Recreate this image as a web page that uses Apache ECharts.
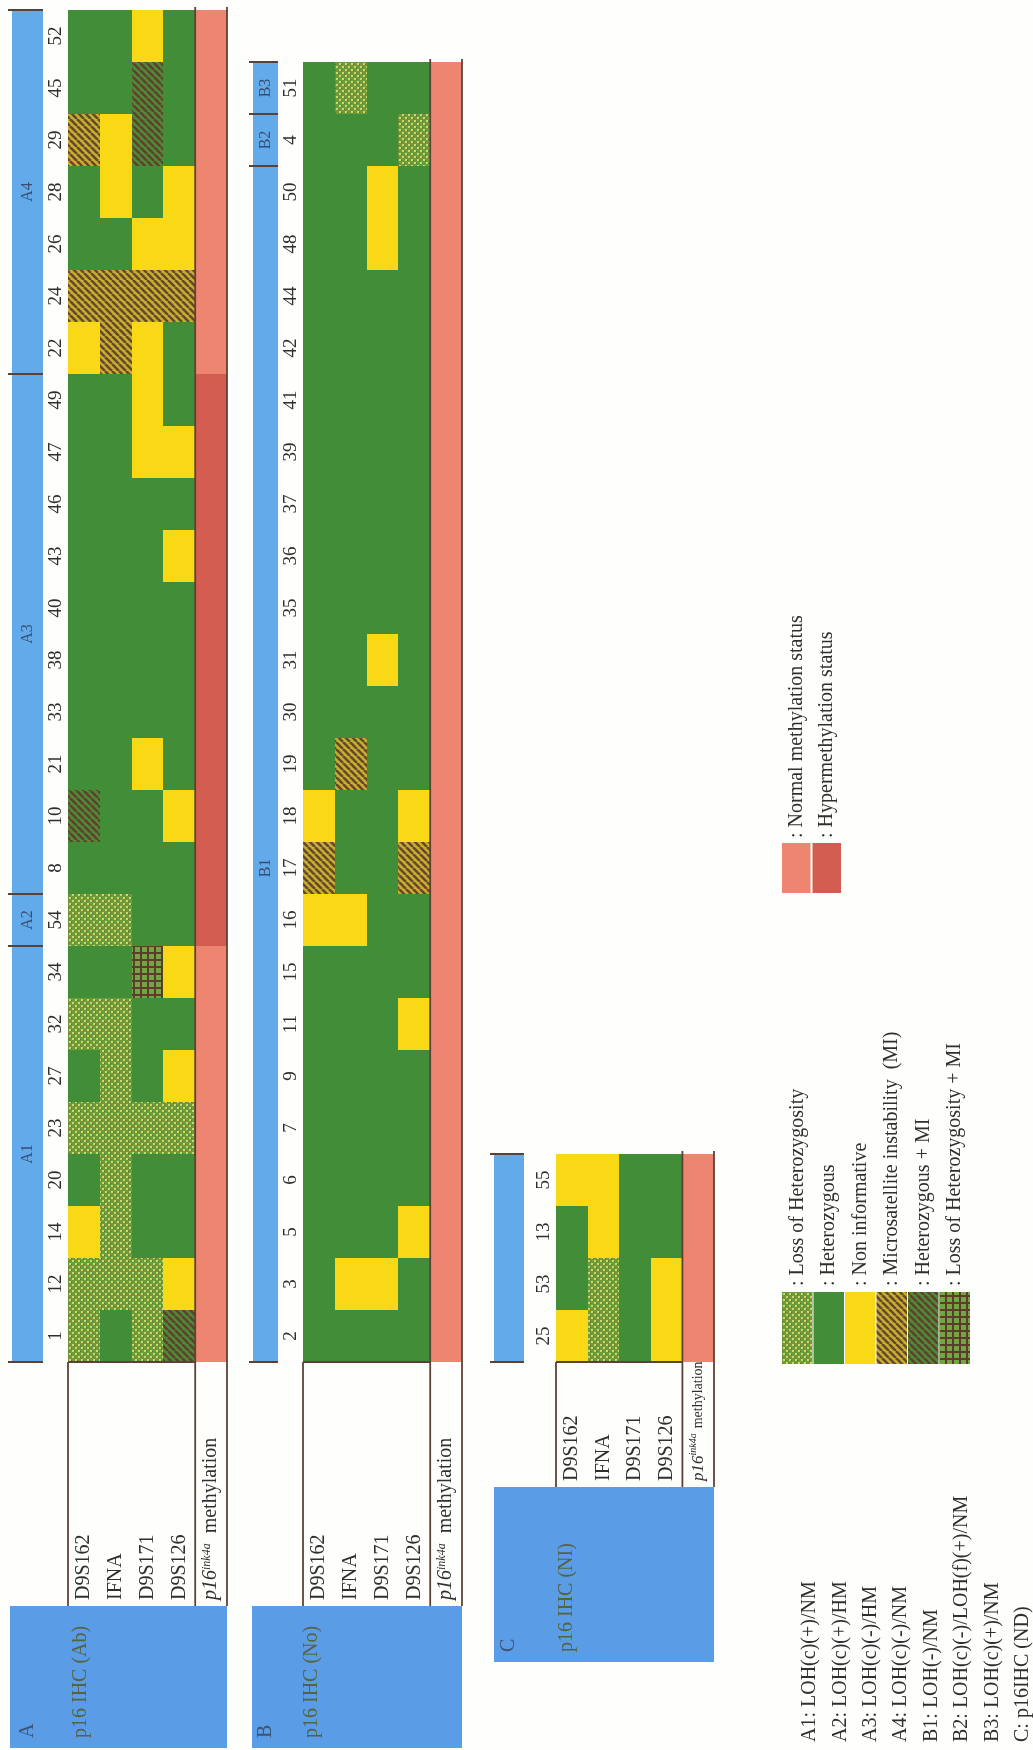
<!DOCTYPE html>
<html>
<head>
<meta charset="utf-8">
<script src="https://cdn.jsdelivr.net/npm/echarts@6/dist/echarts.min.js"></script>
<style>
  html, body { margin: 0; padding: 0; background: #fefefd; }
  #chart { width: 1033px; height: 1750px; }
</style>
</head>
<body>
<div id="chart"></div>
<script>
// ---- data -------------------------------------------------------------
// Microsatellite markers (columns) plus the methylation column.
const markers = ['D9S162', 'IFNA', 'D9S171', 'D9S126'];
const columns = markers.concat(['methylation']);

// Loci codes, one letter per marker:
// G heterozygous, L loss of heterozygosity, Y non informative,
// M microsatellite instability, H heterozygous + MI, X LOH + MI
// Methylation codes: N normal, H hypermethylated.
// Cases are listed from the first drawn (bottom) to the last (top).

// Group A: p16 IHC (Ab)
const casesA = ['1', '12', '14', '20', '23', '27', '32', '34', '54', '8', '10', '21', '33',
                '38', '40', '43', '46', '47', '49', '22', '24', '26', '28', '29', '45', '52'];
const lociA = ['LGLH', 'LLLY', 'YLGG', 'GLGG', 'LLLL', 'GLGY', 'LLGG', 'GGXY', 'LLGG', 'GGGG',
               'HGGY', 'GGYG', 'GGGG', 'GGGG', 'GGGG', 'GGGY', 'GGGG', 'GGYY', 'GGYG', 'YMYG',
               'MMMM', 'GGYY', 'GYGY', 'MYHG', 'GGHG', 'GGYG'];
const methylA = ['N', 'N', 'N', 'N', 'N', 'N', 'N', 'N', 'H', 'H', 'H', 'H', 'H',
                 'H', 'H', 'H', 'H', 'H', 'H', 'N', 'N', 'N', 'N', 'N', 'N', 'N'];
const groupsA = [
  { name: 'A1', first: '1', last: '34' },
  { name: 'A2', first: '54', last: '54' },
  { name: 'A3', first: '8', last: '49' },
  { name: 'A4', first: '22', last: '52' }
];

// Group B: p16 IHC (No)
const casesB = ['2', '3', '5', '6', '7', '9', '11', '15', '16', '17', '18', '19', '30',
                '31', '35', '36', '37', '39', '41', '42', '44', '48', '50', '4', '51'];
const lociB = ['GGGG', 'GYYG', 'GGGY', 'GGGG', 'GGGG', 'GGGG', 'GGGY', 'GGGG', 'YYGG', 'MGGM',
               'YGGY', 'GMGG', 'GGGG', 'GGYG', 'GGGG', 'GGGG', 'GGGG', 'GGGG', 'GGGG', 'GGGG',
               'GGGG', 'GGYG', 'GGYG', 'GGGL', 'GLGG'];
const methylB = ['N', 'N', 'N', 'N', 'N', 'N', 'N', 'N', 'N', 'N', 'N', 'N', 'N',
                 'N', 'N', 'N', 'N', 'N', 'N', 'N', 'N', 'N', 'N', 'N', 'N'];
const groupsB = [
  { name: 'B1', first: '2', last: '50', labelAt: '17' },
  { name: 'B2', first: '4', last: '4' },
  { name: 'B3', first: '51', last: '51' }
];

// Group C: p16 IHC (NI)
const casesC = ['25', '53', '13', '55'];
const lociC = ['YLGY', 'GLGY', 'GYGG', 'YYGG'];
const methylC = ['N', 'N', 'N', 'N'];
const groupsC = [{ name: '', first: '25', last: '55' }];

// Legend entries
const lociLegend = [
  ['L', ': Loss of Heterozygosity'],
  ['G', ': Heterozygous'],
  ['Y', ': Non informative'],
  ['M', ': Microsatellite instability  (MI)'],
  ['H', ': Heterozygous + MI'],
  ['X', ': Loss of Heterozygosity + MI']
];
const methylLegend = [
  ['N', ': Normal methylation status'],
  ['H', ': Hypermethylation status']
];
const groupNotes = [
  'A1: LOH(c)(+)/NM', 'A2: LOH(c)(+)/HM', 'A3: LOH(c)(-)/HM', 'A4: LOH(c)(-)/NM',
  'B1: LOH(-)/NM', 'B2: LOH(c)(-)/LOH(f)(+)/NM', 'B3: LOH(c)(+)/NM', 'C: p16IHC (ND)'
];

// ---- styles -----------------------------------------------------------
const FONT = "'Liberation Serif', 'DejaVu Serif', 'Times New Roman', serif";
const TEXT = '#2f2f2f';
const LINE = '#5e4136';
const BAND_BLUE = '#63aaea';
const BLOCK_BLUE = '#5a9de6';

function tile(w, h, draw) {
  const c = document.createElement('canvas');
  c.width = w; c.height = h;
  draw(c.getContext('2d'), w, h);
  return { image: c, repeat: 'repeat' };
}
function stripes(base, ink) {
  return tile(7, 7, (g, w, h) => {
    g.fillStyle = base; g.fillRect(0, 0, w, h);
    g.strokeStyle = ink; g.lineWidth = 2.6; g.beginPath();
    for (let k = -1; k <= 1; k++) { g.moveTo(k * w, 0); g.lineTo(k * w + w, h); }
    g.stroke();
  });
}
const lociFill = {
  G: '#428d38',
  Y: '#f9d816',
  L: tile(6, 6, (g) => {
    g.fillStyle = '#6c9c3b'; g.fillRect(0, 0, 6, 6);
    g.fillStyle = '#cddb66'; g.fillRect(0, 0, 2, 2); g.fillRect(3, 3, 2, 2);
    g.fillStyle = '#7d5a3a'; g.fillRect(2, 1, 1, 1); g.fillRect(5, 4, 1, 1);
  }),
  M: stripes('#c4b02e', '#6a472c'),
  H: stripes('#4f8b36', '#5f422e'),
  X: tile(7, 7, (g) => {
    g.fillStyle = '#73a545'; g.fillRect(0, 0, 7, 7);
    g.fillStyle = '#5c3c2a'; g.fillRect(0, 0, 7, 2); g.fillRect(0, 0, 2, 7);
  })
};
const methylFill = { N: '#ee8571', H: '#d35d50' };

// ---- panel layout -----------------------------------------------------
// mLabel: font sizes of "p16", "ink4a" and "methylation" in the label box
const panels = [
  { id: 'A', title: 'p16 IHC (Ab)', cases: casesA, loci: lociA, methyl: methylA, groups: groupsA,
    layout: { left: 68, top: 10, right: 227, bottom: 1362, bandL: 12, bandR: 43, mLabel: [20, 12, 20],
              boxBottom: 1606, blockL: 10, blockR: 227, blockB: 1748, letterX: 28, titleX: 81 } },
  { id: 'B', title: 'p16 IHC (No)', cases: casesB, loci: lociB, methyl: methylB, groups: groupsB,
    layout: { left: 303, top: 62, right: 462, bottom: 1362, bandL: 253, bandR: 278, mLabel: [20, 12, 20],
              boxBottom: 1606, blockL: 252, blockR: 462, blockB: 1748, letterX: 266, titleX: 312 } },
  { id: 'C', title: 'p16 IHC (NI)', cases: casesC, loci: lociC, methyl: methylC, groups: groupsC,
    layout: { left: 556, top: 1154, right: 714, bottom: 1362, bandL: 494, bandR: 524, mLabel: [17, 10, 14],
              boxBottom: 1487, blockL: 494, blockR: 714, blockB: 1662, letterX: 509, titleX: 567 } }
];

function vText(x, y, text, opts) {
  const o = opts || {};
  const align = o.align || 'left';
  return {
    type: 'text', x: x, y: y, rotation: Math.PI / 2, z: o.z || 20,
    style: {
      text: text, font: (o.size || 20) + 'px ' + FONT, fill: o.color || TEXT,
      align: align, textAlign: align, verticalAlign: 'middle', textVerticalAlign: 'middle'
    }
  };
}

const grids = [], xAxes = [], yAxes = [], series = [], graphics = [];

panels.forEach((p, k) => {
  const L = p.layout;
  const ms = L.mLabel;
  grids.push({ left: L.left, top: L.top, width: L.right - L.left, height: L.bottom - L.top,
               containLabel: false, outerBoundsMode: 'none' });

  xAxes.push({
    gridIndex: k, type: 'category', data: columns, position: 'bottom',
    axisLine: { show: false }, axisTick: { show: false }, splitLine: { show: false },
    axisLabel: {
      interval: 0, rotate: 90, align: 'left', verticalAlign: 'middle', overflow: 'none',
      margin: L.boxBottom - 6 - L.bottom, fontFamily: FONT, fontSize: 20, color: TEXT,
      formatter: (v) => v === 'methylation'
        ? '{it|p16}{sup|ink4a}' + (ms[2] < 20 ? ' ' : '  ') + '{m|methylation}' : v,
      rich: {
        it: { fontFamily: FONT, fontSize: ms[0], fontStyle: 'italic', color: TEXT },
        sup: { fontFamily: FONT, fontSize: ms[1], fontStyle: 'italic', color: TEXT, verticalAlign: 'top' },
        m: { fontFamily: FONT, fontSize: ms[2], color: TEXT }
      }
    }
  });
  yAxes.push({
    gridIndex: k, type: 'category', data: p.cases,
    axisLine: { show: false }, axisTick: { show: false }, splitLine: { show: false },
    axisLabel: { interval: 0, rotate: 90, verticalAlign: 'middle', margin: 12,
                 fontFamily: FONT, fontSize: 19, color: TEXT }
  });

  // genotype and methylation cells
  const cellData = [], cellKeys = [];
  p.cases.forEach((c, i) => {
    for (let j = 0; j < markers.length; j++) {
      cellData.push([j, i]); cellKeys.push(lociFill[p.loci[i][j]]);
    }
    cellData.push([markers.length, i]); cellKeys.push(methylFill[p.methyl[i]]);
  });
  series.push({
    type: 'custom', xAxisIndex: k, yAxisIndex: k, data: cellData, silent: true,
    renderItem: (params, api) => {
      const c = api.coord([api.value(0), api.value(1)]);
      const s = api.size([1, 1]);
      const x0 = Math.round(c[0] - s[0] / 2), x1 = Math.round(c[0] + s[0] / 2);
      const y0 = Math.round(c[1] - s[1] / 2), y1 = Math.round(c[1] + s[1] / 2);
      return { type: 'rect', shape: { x: x0, y: y0, width: x1 - x0, height: y1 - y0 },
               style: { fill: cellKeys[params.dataIndex] } };
    }
  });

  // group bands beside the case numbers
  const bandData = p.groups.map((g) => {
    const lo = p.cases.indexOf(g.first), hi = p.cases.indexOf(g.last);
    const at = g.labelAt ? p.cases.indexOf(g.labelAt) : -1;
    return [0, lo, hi, at];
  });
  series.push({
    type: 'custom', xAxisIndex: k, yAxisIndex: k, data: bandData, silent: true, clip: false,
    renderItem: (params, api) => {
      const g = p.groups[params.dataIndex];
      const h = api.size([0, 1])[1];
      const yB = api.coord([0, api.value(1)])[1] + h / 2;
      const yT = api.coord([0, api.value(2)])[1] - h / 2;
      const at = api.value(3);
      const yL = at >= 0 ? api.coord([0, at])[1] : (yT + yB) / 2;
      const xm = (L.bandL + L.bandR) / 2;
      return {
        type: 'group',
        children: [
          { type: 'rect', shape: { x: L.bandL, y: yT, width: L.bandR - L.bandL, height: yB - yT },
            style: { fill: BAND_BLUE } },
          { type: 'line', shape: { x1: L.bandL - 4, y1: yT, x2: L.bandR, y2: yT },
            style: { stroke: LINE, lineWidth: 2 } },
          { type: 'line', shape: { x1: L.bandL - 4, y1: yB, x2: L.bandR, y2: yB },
            style: { stroke: LINE, lineWidth: 2 } },
          { type: 'text', x: xm, y: yL, rotation: Math.PI / 2,
            style: { text: g.name, font: '16px ' + FONT, fill: '#3a4d6e',
                     align: 'center', textAlign: 'center', verticalAlign: 'middle', textVerticalAlign: 'middle' } }
        ]
      };
    }
  });

  // frame lines of the label box and the methylation column
  const colW = (L.right - L.left) / columns.length;
  const xSep = L.left + markers.length * colW;
  const line = (x1, y1, x2, y2) => graphics.push({ type: 'line', z: 15,
    shape: { x1: x1, y1: y1, x2: x2, y2: y2 }, style: { stroke: LINE, lineWidth: 1.8 } });
  line(xSep, L.top - 3, xSep, L.boxBottom);
  line(L.right, L.top - 3, L.right, L.boxBottom);
  line(L.left, L.bottom, L.left, L.boxBottom);
  line(L.left, L.bottom, xSep, L.bottom);

  // title block
  graphics.push({ type: 'rect', z: 5,
    shape: { x: L.blockL, y: L.boxBottom, width: L.blockR - L.blockL, height: L.blockB - L.boxBottom },
    style: { fill: BLOCK_BLUE } });
  graphics.push(vText(L.letterX, L.blockB - 10, p.id, { color: '#3f5270' }));
  graphics.push(vText(L.titleX, L.blockB - 10, p.title, { color: '#56633f' }));
});

// loci legend
lociLegend.forEach((e, i) => {
  const x = 782 + i * 31.5;
  graphics.push({ type: 'rect', z: 5, shape: { x: x, y: 1292, width: 30.5, height: 72 },
                  style: { fill: lociFill[e[0]] } });
  graphics.push(vText(x + 15.5, 1286, e[1]));
});
// methylation legend
methylLegend.forEach((e, i) => {
  const x = 782 + i * 30.5;
  graphics.push({ type: 'rect', z: 5, shape: { x: x, y: 843, width: 28.5, height: 50 },
                  style: { fill: methylFill[e[0]] } });
  graphics.push(vText(x + 14.5, 838, e[1]));
});
// group definitions
groupNotes.forEach((t, i) => {
  graphics.push(vText(810 + i * 30.4, 1742, t));
});

const chart = echarts.init(document.getElementById('chart'), null, { renderer: 'canvas', width: 1033, height: 1750 });
chart.setOption({
  animation: false,
  backgroundColor: '#fefefd',
  textStyle: { fontFamily: FONT },
  grid: grids,
  xAxis: xAxes,
  yAxis: yAxes,
  series: series,
  graphic: { elements: graphics }
});
</script>
</body>
</html>
